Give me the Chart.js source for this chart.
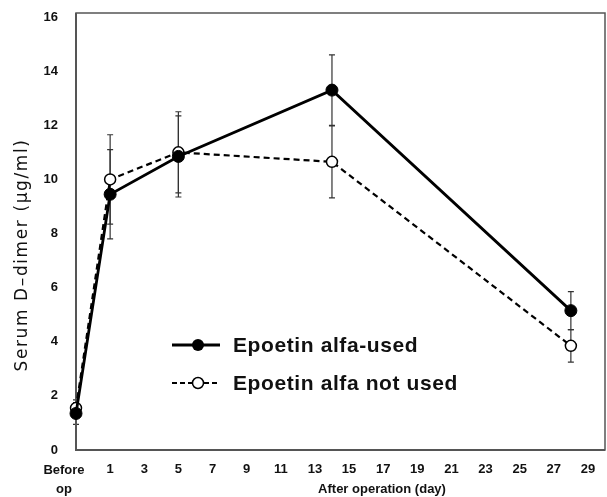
<!DOCTYPE html>
<html>
<head>
<meta charset="utf-8">
<script src="https://cdn.jsdelivr.net/npm/chart.js@4"></script>
<style>
  html, body { margin: 0; padding: 0; background: #fff; overflow: hidden; }
  #wrap { width: 607px; height: 497px; position: relative; }
  canvas { display: block; }
</style>
</head>
<body>
<div id="wrap"><canvas id="myChart"></canvas></div>
<script>
// days after operation (-1 = before op)
var days = [-1, 1, 5, 14, 28];
var usedMean = [1.35, 9.45, 10.85, 13.3, 5.15];
var usedSD = [0.4, 1.65, 1.5, 1.3, 0.7];
var notUsedMean = [1.55, 10.0, 11.0, 10.65, 3.85];
var notUsedSD = [0.3, 1.65, 1.5, 1.33, 0.6];
var xTickValues = [-1, 1, 3, 5, 7, 9, 11, 13, 15, 17, 19, 21, 23, 25, 27, 29];
var yTickValues = [0, 2, 4, 6, 8, 10, 12, 14, 16];
var seriesNames = ['Epoetin alfa-used', 'Epoetin alfa not used'];

var FONT = '"Liberation Sans", Arial, sans-serif';

function toPoints(means) {
    return days.map(function (d, i) {
        return { x: d, y: means[i] };
    });
}

// error bars, drawn under the lines and markers
var errorBars = {
    id: 'errorBars',
    beforeDatasetsDraw: function (chart) {
        var ctx = chart.ctx;
        var xs = chart.scales.x, ys = chart.scales.y;
        var sets = [[usedMean, usedSD], [notUsedMean, notUsedSD]];
        ctx.save();
        ctx.strokeStyle = '#333';
        ctx.lineWidth = 1.2;
        sets.forEach(function (s) {
            days.forEach(function (d, i) {
                var px = xs.getPixelForValue(d);
                var top = ys.getPixelForValue(s[0][i] + s[1][i]);
                var bot = ys.getPixelForValue(s[0][i] - s[1][i]);
                ctx.beginPath();
                ctx.moveTo(px, top); ctx.lineTo(px, bot);
                ctx.moveTo(px - 3, top); ctx.lineTo(px + 3, top);
                ctx.moveTo(px - 3, bot); ctx.lineTo(px + 3, bot);
                ctx.stroke();
            });
        });
        ctx.restore();
    }
};

// frame, axis texts and the legend inside the plot
var decorations = {
    id: 'decorations',
    beforeDatasetsDraw: function (chart) {
        var ctx = chart.ctx, a = chart.chartArea;
        ctx.save();
        ctx.strokeStyle = '#555';
        ctx.lineWidth = 1.5;
        ctx.strokeRect(a.left, a.top, a.right - a.left, a.bottom - a.top);
        ctx.lineWidth = 2;
        ctx.beginPath();
        ctx.moveTo(a.left, a.top); ctx.lineTo(a.left, a.bottom); ctx.lineTo(a.right, a.bottom);
        ctx.stroke();
        ctx.restore();
    },
    afterDraw: function (chart) {
        var ctx = chart.ctx, a = chart.chartArea;
        ctx.save();
        ctx.fillStyle = '#111';
        ctx.textAlign = 'center';
        ctx.textBaseline = 'middle';

        // "Before op" label, shifted left of its tick as in the original
        ctx.font = 'bold 13px ' + FONT;
        ctx.fillText('Before', a.left - 12, a.bottom + 20);
        ctx.fillText('op', a.left - 12, a.bottom + 39);

        // x title
        ctx.fillText('After operation (day)', 382, a.bottom + 39);

        // y title
        ctx.save();
        ctx.translate(23, 255);
        ctx.rotate(-Math.PI / 2);
        ctx.font = '17px "DejaVu Sans", sans-serif';
        ctx.letterSpacing = '1.6px';
        ctx.fillText('Serum D\u2013dimer (\u03bcg/ml)', 0, 0);
        ctx.restore();

        // legend
        var lx0 = a.left + 96, lx1 = a.left + 144, mx = a.left + 122, tx = a.left + 157;
        var rows = [345, 383];
        ctx.textAlign = 'left';
        ctx.font = 'bold 21px ' + FONT;
        ctx.letterSpacing = '0.6px';
        ctx.strokeStyle = '#000';

        ctx.lineWidth = 2.8;
        ctx.setLineDash([]);
        ctx.beginPath(); ctx.moveTo(lx0, rows[0]); ctx.lineTo(lx1, rows[0]); ctx.stroke();
        ctx.beginPath(); ctx.arc(mx, rows[0], 6, 0, Math.PI * 2); ctx.fillStyle = '#000'; ctx.fill();
        ctx.fillStyle = '#111';
        ctx.fillText(seriesNames[0], tx, rows[0] + 1);

        ctx.lineWidth = 2;
        ctx.setLineDash([5, 3]);
        ctx.beginPath(); ctx.moveTo(lx0, rows[1]); ctx.lineTo(lx1, rows[1]); ctx.stroke();
        ctx.setLineDash([]);
        ctx.beginPath(); ctx.arc(mx, rows[1], 5.5, 0, Math.PI * 2);
        ctx.fillStyle = '#fff'; ctx.fill();
        ctx.lineWidth = 1.5; ctx.stroke();
        ctx.fillStyle = '#111';
        ctx.fillText(seriesNames[1], tx, rows[1] + 1);
        ctx.restore();
    }
};

var ctx = document.getElementById('myChart').getContext('2d');
var myChart = new Chart(ctx, {
    type: 'scatter',
    data: {
        datasets: [{
            label: seriesNames[0],
            data: toPoints(usedMean),
            showLine: true,
            borderColor: '#000',
            borderWidth: 2.8,
            pointRadius: 6,
            pointBackgroundColor: '#000',
            pointBorderColor: '#000',
            pointBorderWidth: 1,
            clip: false
        }, {
            label: seriesNames[1],
            data: toPoints(notUsedMean),
            showLine: true,
            borderColor: '#000',
            borderWidth: 2.2,
            borderDash: [6, 4],
            pointRadius: 5.5,
            pointBackgroundColor: '#fff',
            pointBorderColor: '#000',
            pointBorderWidth: 1.5,
            clip: false
        }]
    },
    options: {
        responsive: true,
        maintainAspectRatio: false,
        animation: false,
        layout: { autoPadding: false, padding: { top: 13, right: 2, left: 0, bottom: 0 } },
        plugins: {
            legend: { display: false },
            tooltip: { enabled: false }
        },
        scales: {
            x: {
                type: 'linear',
                min: -1,
                max: 30,
                grid: { display: false, drawTicks: false },
                border: { display: false },
                afterBuildTicks: function (s) {
                    s.ticks = xTickValues.map(function (v) { return { value: v }; });
                },
                afterFit: function (s) {
                    s.height = 47;
                    s.paddingLeft = 0;
                    s.paddingRight = 0;
                },
                ticks: {
                    autoSkip: false,
                    maxRotation: 0,
                    padding: 12,
                    color: '#111',
                    font: { family: FONT, size: 13, weight: 'bold' },
                    callback: function (v) { return v === -1 ? '' : String(v); }
                }
            },
            y: {
                min: 0,
                max: 16.15,
                grid: { display: false, drawTicks: false },
                border: { display: false },
                afterBuildTicks: function (s) {
                    s.ticks = yTickValues.map(function (v) { return { value: v }; });
                },
                afterFit: function (s) {
                    s.width = 76;
                    s.paddingTop = 0;
                    s.paddingBottom = 0;
                },
                ticks: {
                    padding: 18,
                    color: '#111',
                    font: { family: FONT, size: 13, weight: 'bold' }
                }
            }
        }
    },
    plugins: [errorBars, decorations]
});
</script>
</body>
</html>
